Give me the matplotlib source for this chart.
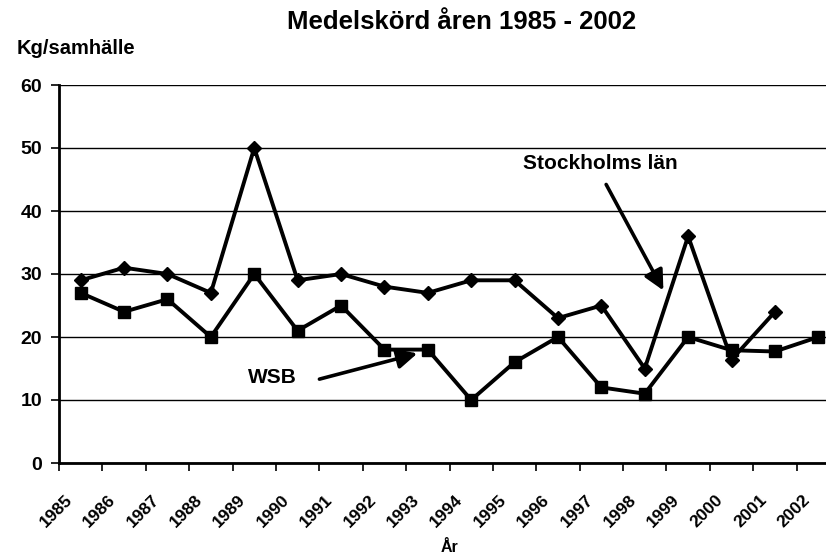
import numpy as np
import matplotlib.pyplot as plt

plt.rcParams['font.family'] = ['Liberation Sans', 'DejaVu Sans']
plt.rcParams['font.weight'] = 'bold'

years = [str(y) for y in range(1985, 2003)]
stockholm = [29, 31, 30, 27, 50, 29, 30, 28, 27, 29, 29, 23, 25, 15, 36, 16.4, 24, np.nan]
wsb = [27, 24, 26, 20, 30, 21, 25, 18, 18, 10, 16, 20, 12, 11, 20, 17.9, 17.7, 20]

fig = plt.figure(figsize=(8.26, 5.56), dpi=100)
ax = fig.add_axes([59 / 826, 1 - 463 / 556, 781 / 826, 378 / 556])

x = np.arange(len(years))
ax.plot(x, stockholm, color='black', lw=2.8, marker='D', markersize=7.5)
ax.plot(x, wsb, color='black', lw=2.8, marker='s', markersize=8)

ax.set_xlim(-0.5, len(years) - 0.5)
ax.set_ylim(0, 60)
ax.set_yticks(range(0, 61, 10))
ax.yaxis.grid(True, color='black', lw=1)
ax.set_axisbelow(True)

# tick marks on category boundaries, labels slightly to the right
ax.set_xticks(np.arange(len(years)) - 0.5)
ax.set_xticklabels([])
ax.set_xticks(np.arange(len(years)) - 0.37, minor=True)
ax.set_xticklabels(years, minor=True, rotation=45, ha='right', va='top',
                   rotation_mode='anchor', fontsize=12.5, fontweight='bold')
ax.tick_params(axis='x', which='minor', length=0, pad=21)
ax.tick_params(axis='x', which='major', length=6, width=1.2)
ax.tick_params(axis='y', length=6, width=1.2, labelsize=14, pad=6)
for lab in ax.get_yticklabels():
    lab.set_fontweight('bold')

for s in ['top', 'right']:
    ax.spines[s].set_visible(False)
ax.spines['left'].set_linewidth(2)
ax.spines['bottom'].set_linewidth(2)

ax.annotate('', xy=(13.46, 27.0), xytext=(12.08, 44.6),
            arrowprops=dict(arrowstyle='-|>', lw=2.6, color='black', mutation_scale=30))
ax.text(11.97, 47.6, 'Stockholms län', ha='center', va='center', fontsize=15, fontweight='bold')
ax.annotate('', xy=(7.82, 17.5), xytext=(5.44, 13.2),
            arrowprops=dict(arrowstyle='-|>', lw=2.6, color='black', mutation_scale=30))
ax.text(4.43, 13.65, 'WSB', ha='center', va='center', fontsize=15, fontweight='bold')

fig.text(462 / 826, 1 - 22 / 556, 'Medelskörd åren 1985 - 2002', ha='center', va='center',
         fontsize=18.5, fontweight='bold')
fig.text(17 / 826, 1 - 48 / 556, 'Kg/samhälle', ha='left', va='center', fontsize=14.5, fontweight='bold')
fig.text(450 / 826, 1 - 548 / 556, 'År', ha='center', va='center', fontsize=11.5, fontweight='bold')

fig.savefig('out.png', dpi=100)
